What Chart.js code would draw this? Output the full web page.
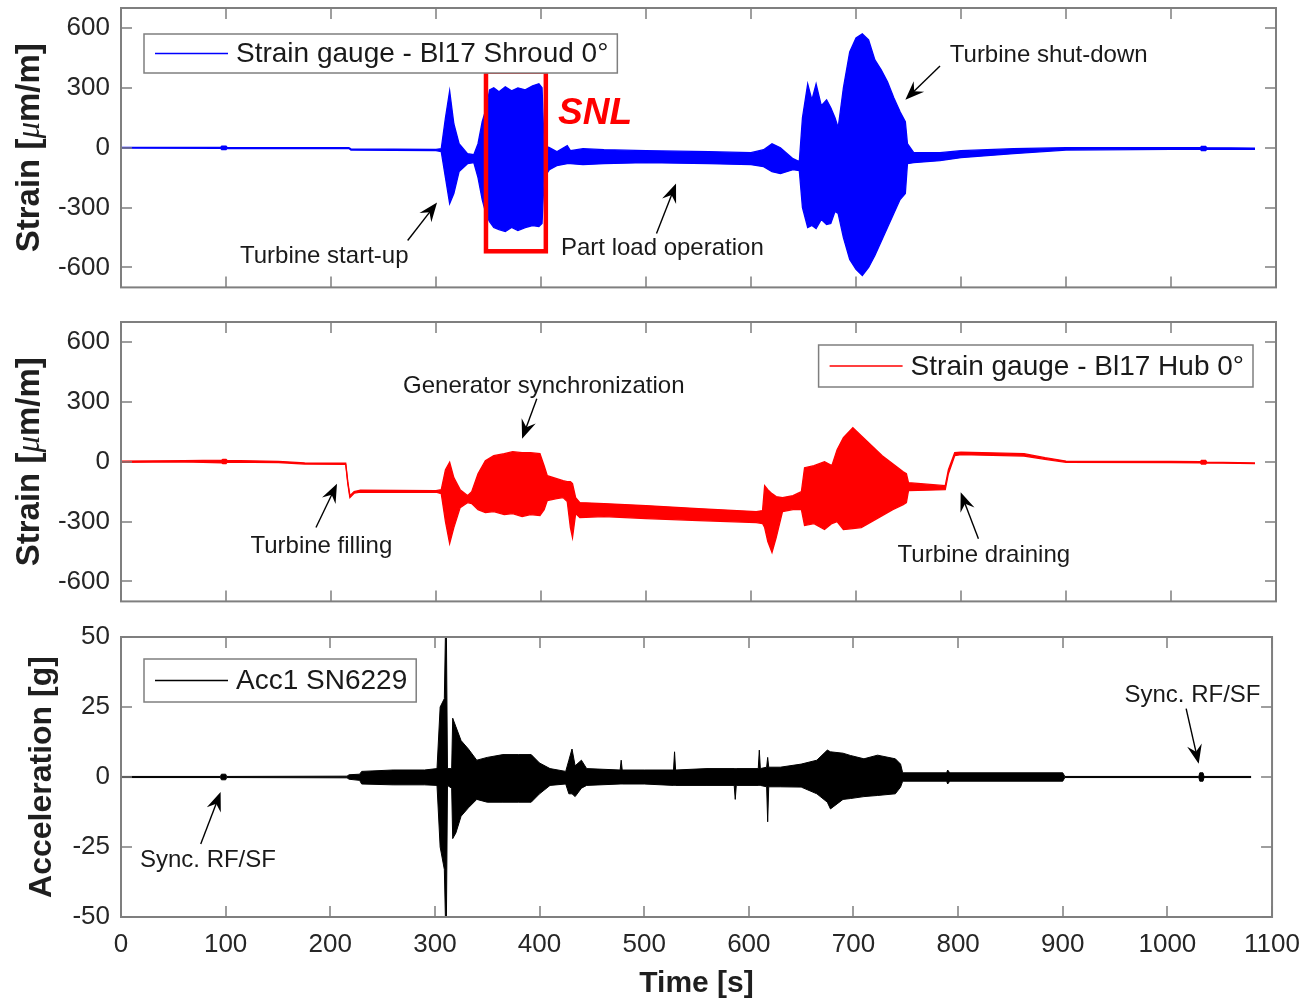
<!DOCTYPE html>
<html>
<head>
<meta charset="utf-8">
<title>Runner strain and acceleration</title>
<script src="https://cdn.jsdelivr.net/npm/chart.js@4.4.1/dist/chart.umd.min.js"></script>
<style>
  html, body { margin: 0; padding: 0; background: #fff; }
  #fig { position: relative; width: 1312px; height: 999px; overflow: hidden; background: #fff; }
  #fig canvas { position: absolute; left: 0; }
</style>
</head>
<body>
<div id="fig">
  <canvas id="shroud" width="1312" height="334" style="top:-20px"></canvas>
  <canvas id="hub" width="1312" height="334" style="top:294px"></canvas>
  <canvas id="acc" width="1312" height="390" style="top:609px"></canvas>
</div>
<script>
// tick values
const timeTicks = [0, 100, 200, 300, 400, 500, 600, 700, 800, 900, 1000, 1100];
const strainTicks = [-600, -300, 0, 300, 600];
const accTicks = [-50, -25, 0, 25, 50];

const seriesLabels = ['Strain gauge - Bl17 Shroud 0°', 'Strain gauge - Bl17 Hub 0°', 'Acc1 SN6229'];

// shroud strain gauge, upper / lower envelope of the raw signal [µm/m]
const shroudTime = [0, 95, 96, 100, 101, 217, 219, 300, 305, 309, 313, 317, 322, 330, 336, 340, 344, 348, 351, 355,
  360, 366, 372, 378, 385, 392, 398, 401, 403, 408, 415, 425, 428, 440, 460, 500, 560, 600, 612, 620,
  628, 640, 646, 649, 654, 658, 662, 667, 672, 676, 680, 683, 688, 694, 700, 706, 712, 718, 724, 730,
  736, 742, 747, 749, 755, 780, 800, 850, 900, 1000, 1028, 1029, 1033, 1034, 1080];
const shroudUpper = [2, 2, 8, 8, 1, 0, -6, -8, -5, 150, 285, 120, 20, -30, -35, 20, 130, 200, 290, 300,
  280, 305, 285, 300, 290, 310, 320, 300, 10, 0, -20, 10, -15, -5, -10, -15, -20, -25, -10, 20,
  0, -55, -70, 150, 320, 240, 320, 210, 240, 200, 150, 100, 300, 480, 550, 570, 540, 440, 390, 330,
  250, 180, 130, 20, -25, -25, -15, -5, 0, 0, 0, 6, 6, 0, -2];
const shroudLower = [-2, -3, -10, -10, -3, -4, -12, -14, -20, -150, -280, -230, -120, -80, -75, -150, -260, -340, -370, -400,
  -410, -420, -400, -415, -400, -390, -395, -380, -150, -110, -90, -80, -80, -85, -80, -75, -80, -85, -95, -120,
  -130, -110, -115, -300, -400, -390, -405, -360, -385, -380, -320, -330, -450, -560, -610, -640, -600, -540, -470, -400,
  -330, -260, -230, -80, -75, -65, -50, -30, -12, -8, -8, -14, -14, -8, -8];

// hub strain gauge [µm/m]
const hubTime = [0, 60, 96, 97, 100, 101, 150, 175, 214, 216, 218, 222, 228, 300, 305, 309, 313, 317, 323, 330,
  334, 340, 347, 355, 365, 373, 382, 390, 399, 403, 406, 415, 421, 425, 428, 430, 433, 437, 460, 500,
  550, 605, 611, 613, 616, 620, 624, 630, 640, 648, 651, 660, 670, 677, 682, 688, 697, 705, 715, 725,
  735, 745, 748, 750, 785, 788, 794, 800, 860, 880, 900, 1000, 1028, 1029, 1033, 1034, 1080];
const hubUpper = [3, 5, 8, 12, 12, 6, 2, -6, -7, -100, -170, -150, -142, -145, -140, -40, -3, -80, -140, -170,
  -150, -60, 5, 30, 40, 50, 45, 45, 40, -20, -70, -85, -95, -100, -100, -110, -180, -205, -210, -220,
  -235, -250, -245, -120, -140, -160, -175, -180, -170, -150, -30, -20, 0, -20, 60, 120, 170, 130, 80, 30,
  -10, -50, -60, -105, -120, -40, 45, 48, 40, 20, 3, 2, 0, 6, 6, -2, -6];
const hubLower = [-3, -1, -6, -10, -10, -2, -4, -12, -13, -110, -180, -158, -152, -153, -160, -300, -410, -330, -230, -205,
  -210, -240, -255, -250, -265, -260, -275, -265, -270, -240, -195, -185, -180, -200, -330, -380, -260, -280, -275, -285,
  -295, -305, -310, -330, -400, -455, -380, -250, -240, -240, -320, -310, -340, -310, -300, -340, -335, -330, -300, -270,
  -240, -215, -205, -145, -140, -60, 30, 35, 28, 12, -3, -4, -6, -12, -12, -6, -10];

// accelerometer [g]
const accTime = [0, 95, 96, 100, 101, 216, 218, 228, 230, 260, 290, 302, 305, 309, 310, 311, 312, 316, 317, 320,
  325, 332, 340, 350, 365, 380, 392, 400, 410, 425, 428, 431, 434, 440, 445, 477, 478, 479, 500, 528,
  529, 530, 560, 586, 587, 588, 609, 610, 611, 617, 618, 619, 630, 650, 665, 675, 678, 690, 697, 710,
  723, 740, 745, 747, 789, 790, 792, 900, 902, 1030, 1031, 1034, 1035, 1080];
const accUpper = [0.2, 0.2, 1, 1, 0.2, 0.3, 0.8, 1, 2, 2.5, 2.5, 3, 25, 28, 50, 50, 3, 3, 21, 18,
  13, 10, 6, 7, 8, 8, 8, 5, 3, 2, 6, 10, 4, 6, 3, 2.5, 6, 2.5, 2.5, 2.5,
  9, 2.5, 3, 3, 3, 3, 3, 9.6, 3, 3.5, 7, 3.5, 3.5, 4.6, 6, 9.6, 9, 8.5, 7.7, 6.5,
  7.8, 6.5, 4.6, 1.5, 1.5, 2.5, 1.5, 1.5, 0.2, 0.2, 1.5, 1.5, 0.2, 0.2];
const accLower = [-0.2, -0.2, -1, -1, -0.2, -0.3, -0.8, -1.2, -2.5, -2.8, -2.8, -3, -25, -33, -50, -50, -3, -4, -22, -20,
  -14, -11, -8, -9, -9, -9, -9, -6, -3, -2.5, -6, -6, -7, -4, -3, -2.5, -2.5, -2.5, -2.5, -3,
  -3, -3, -3, -3, -8, -3, -3, -3, -3, -3.5, -16, -3.5, -3.5, -3.6, -6, -9, -11.4, -8, -7.7, -7,
  -6.6, -6, -3.6, -1.5, -1.5, -2.5, -1.5, -1.5, -0.2, -0.2, -1.5, -1.5, -0.2, -0.2];

const FONT = '"Liberation Sans", Arial, Helvetica, sans-serif';
const AXIS_GREY = '#7f7f7f';
const TEXT_DARK = '#262626';

function arrow(ctx, x0, y0, x1, y1) {
  const ang = Math.atan2(y1 - y0, x1 - x0);
  const len = 19, half = 7.5;
  ctx.beginPath();
  ctx.moveTo(x0, y0);
  ctx.lineTo(x1 - Math.cos(ang) * len * 0.6, y1 - Math.sin(ang) * len * 0.6);
  ctx.stroke();
  ctx.save();
  ctx.translate(x1, y1);
  ctx.rotate(ang);
  ctx.beginPath();
  ctx.moveTo(0, 0);
  ctx.lineTo(-len, -half);
  ctx.lineTo(-len * 0.65, 0);
  ctx.lineTo(-len, half);
  ctx.closePath();
  ctx.fill();
  ctx.restore();
}

// box, inward ticks, legend, axis label and annotations in MATLAB style
const panelDecor = {
  id: 'panelDecor',
  afterDatasetsDraw(chart, args, opts) {
    const { ctx, chartArea: a, scales: { x, y } } = chart;
    ctx.save();

    // highlighted window
    if (opts.rect) {
      const r = opts.rect;
      const x0 = x.getPixelForValue(r.t0), x1 = x.getPixelForValue(r.t1);
      const y0 = y.getPixelForValue(r.v1), y1 = y.getPixelForValue(r.v0);
      ctx.strokeStyle = '#ff0000';
      ctx.lineWidth = 4.5;
      ctx.strokeRect(x0, y0, x1 - x0, y1 - y0);
    }

    // text notes
    ctx.textBaseline = 'alphabetic';
    ctx.textAlign = 'left';
    (opts.notes || []).forEach(n => {
      ctx.font = n.font || `24px ${FONT}`;
      ctx.fillStyle = n.color || '#1a1a1a';
      ctx.fillText(n.text, x.getPixelForValue(n.t), y.getPixelForValue(n.v));
    });

    // arrows
    ctx.strokeStyle = '#000';
    ctx.fillStyle = '#000';
    ctx.lineWidth = 1.4;
    (opts.arrows || []).forEach(p => {
      arrow(ctx, x.getPixelForValue(p.from[0]), y.getPixelForValue(p.from[1]),
        x.getPixelForValue(p.to[0]), y.getPixelForValue(p.to[1]));
    });

    // legend box
    const lg = opts.legend;
    ctx.font = `28px ${FONT}`;
    const tw = ctx.measureText(lg.text).width;
    const w = 11 + 73 + 8 + tw + 9;
    const bx = lg.align === 'left' ? a.left + lg.dx : a.right - lg.dx - w;
    const by = a.top + lg.dy;
    ctx.fillStyle = '#fff';
    ctx.fillRect(bx, by, w, lg.h);
    ctx.strokeStyle = AXIS_GREY;
    ctx.lineWidth = 1.5;
    ctx.strokeRect(bx, by, w, lg.h);
    ctx.strokeStyle = lg.color;
    ctx.lineWidth = 1.5;
    ctx.beginPath();
    ctx.moveTo(bx + 11, by + lg.h / 2);
    ctx.lineTo(bx + 84, by + lg.h / 2);
    ctx.stroke();
    ctx.fillStyle = '#1a1a1a';
    ctx.textBaseline = 'middle';
    ctx.fillText(lg.text, bx + 92, by + lg.h / 2 + 1);

    // frame and inward ticks on all four sides
    ctx.strokeStyle = AXIS_GREY;
    ctx.lineWidth = 2;
    ctx.strokeRect(a.left, a.top, a.right - a.left, a.bottom - a.top);
    const tl = 11;
    ctx.lineWidth = 1.5;
    ctx.beginPath();
    timeTicks.forEach(v => {
      const px = Math.round(x.getPixelForValue(v));
      ctx.moveTo(px, a.bottom); ctx.lineTo(px, a.bottom - tl);
      ctx.moveTo(px, a.top); ctx.lineTo(px, a.top + tl);
    });
    opts.yTicks.forEach(v => {
      const py = Math.round(y.getPixelForValue(v));
      ctx.moveTo(a.left, py); ctx.lineTo(a.left + tl, py);
      ctx.moveTo(a.right, py); ctx.lineTo(a.right - tl, py);
    });
    ctx.stroke();

    // rotated y label built from mixed-font pieces
    const parts = opts.yTitle.parts;
    let total = 0;
    parts.forEach(p => { ctx.font = p.font; p.w = ctx.measureText(p.text).width; total += p.w; });
    ctx.translate(a.left + opts.yTitle.dx, (a.top + a.bottom) / 2);
    ctx.rotate(-Math.PI / 2);
    ctx.fillStyle = '#1f1f1f';
    ctx.textBaseline = 'middle';
    let cx = -total / 2;
    parts.forEach(p => { ctx.font = p.font; ctx.fillText(p.text, cx, 0); cx += p.w; });

    ctx.restore();
  }
};

const strainTitle = [
  { text: 'Strain [', font: `bold 33px ${FONT}` },
  { text: 'μ', font: 'italic 33px "Liberation Serif", serif' },
  { text: 'm/m]', font: `bold 33px ${FONT}` }
];

function makePanel(id, p) {
  const toPts = arr => p.t.map((t, i) => ({ x: t, y: arr[i] }));
  const tickFont = { family: FONT, size: 26 };
  return new Chart(document.getElementById(id), {
    type: 'line',
    data: {
      datasets: [
        { label: p.label, data: toPts(p.hi), borderColor: p.color, backgroundColor: p.color,
          borderWidth: p.lw, pointRadius: 0, fill: false },
        { label: p.label, data: toPts(p.lo), borderColor: p.color, backgroundColor: p.color,
          borderWidth: p.lw, pointRadius: 0, fill: '-1' }
      ]
    },
    options: {
      responsive: false,
      devicePixelRatio: 1,
      animation: false,
      events: [],
      layout: { padding: { top: 28, right: 36, left: 0, bottom: 0 } },
      plugins: {
        legend: { display: false },
        tooltip: { enabled: false },
        panelDecor: {
          legend: Object.assign({ text: p.label, color: p.color }, p.legend),
          yTicks: p.yTicks,
          yTitle: p.yTitle,
          notes: p.notes,
          arrows: p.arrows,
          rect: p.rect
        }
      },
      scales: {
        x: {
          type: 'linear', min: 0, max: 1100,
          afterBuildTicks: s => { s.ticks = timeTicks.map(v => ({ value: v })); },
          afterFit: s => { s.height = p.xHeight; },
          grid: { display: false, drawTicks: false },
          border: { display: false },
          ticks: { display: p.showTime, font: tickFont, color: TEXT_DARK, padding: 12,
            maxRotation: 0, autoSkip: false, callback: v => String(v) },
          title: { display: p.showTime, text: 'Time [s]', color: '#1f1f1f',
            font: { family: FONT, size: 30, weight: 'bold', lineHeight: 1.05 }, padding: { top: 0, bottom: 0 } }
        },
        y: {
          type: 'linear', min: p.yMin, max: p.yMax,
          afterBuildTicks: s => { s.ticks = p.yTicks.map(v => ({ value: v })); },
          afterFit: s => { s.width = 121; },
          grid: { display: false, drawTicks: false },
          border: { display: false },
          ticks: { font: tickFont, color: TEXT_DARK, padding: 11, callback: v => String(v) }
        }
      }
    },
    plugins: [panelDecor]
  });
}

makePanel('shroud', {
  label: seriesLabels[0], color: '#0000ff', lw: 1.3,
  t: shroudTime, hi: shroudUpper, lo: shroudLower,
  yMin: -700, yMax: 700, yTicks: strainTicks, xHeight: 19, showTime: false,
  yTitle: { parts: strainTitle, dx: -91 },
  legend: { align: 'left', dx: 23, dy: 26, h: 39 },
  rect: { t0: 347.6, t1: 404.6, v0: -519, v1: 381 },
  notes: [
    { text: 'Turbine start-up', t: 113.3, v: -580 },
    { text: 'Part load operation', t: 419, v: -540 },
    { text: 'Turbine shut-down', t: 789.3, v: 430 },
    { text: 'SNL', t: 416.2, v: 120, font: `italic bold 37px ${FONT}`, color: '#ff0000' }
  ],
  arrows: [
    { from: [273, -465], to: [301, -275] },
    { from: [510, -430], to: [528.6, -180] },
    { from: [780, 410], to: [747, 240] }
  ]
});

makePanel('hub', {
  label: seriesLabels[1], color: '#ff0000', lw: 1.3,
  t: hubTime, hi: hubUpper, lo: hubLower,
  yMin: -700, yMax: 700, yTicks: strainTicks, xHeight: 19, showTime: false,
  yTitle: { parts: strainTitle, dx: -91 },
  legend: { align: 'right', dx: 23, dy: 23, h: 42 },
  notes: [
    { text: 'Generator synchronization', t: 268.6, v: 346.5 },
    { text: 'Turbine filling', t: 123.3, v: -455 },
    { text: 'Turbine draining', t: 739.6, v: -505 }
  ],
  arrows: [
    { from: [396, 315], to: [382, 115] },
    { from: [185.7, -330], to: [205.7, -110] },
    { from: [816.6, -386.5], to: [799.7, -153.5] }
  ]
});

makePanel('acc', {
  label: seriesLabels[2], color: '#000000', lw: 1,
  t: accTime, hi: accUpper, lo: accLower,
  yMin: -50, yMax: 50, yTicks: accTicks, xHeight: 82, showTime: true,
  yTitle: { parts: [{ text: 'Acceleration [g]', font: `bold 32px ${FONT}` }], dx: -79 },
  legend: { align: 'left', dx: 23, dy: 22, h: 43 },
  notes: [
    { text: 'Sync. RF/SF', t: 18.1, v: -32.1 },
    { text: 'Sync. RF/SF', t: 959, v: 26.8 }
  ],
  arrows: [
    { from: [76.2, -23.9], to: [95.2, -5.4] },
    { from: [1017.9, 24.4], to: [1029.9, 4.75] }
  ]
});
</script>
</body>
</html>
